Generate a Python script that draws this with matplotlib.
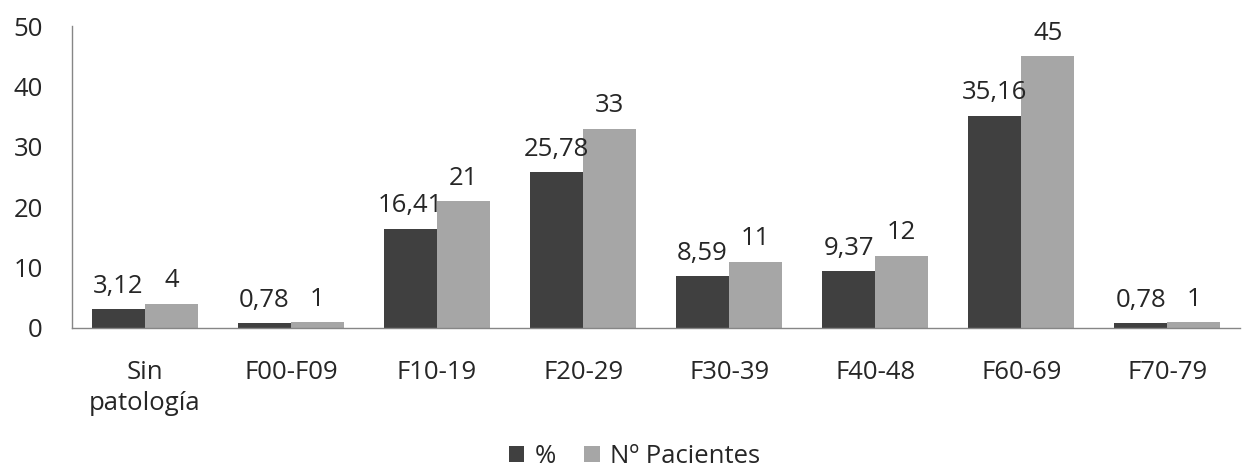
import matplotlib
matplotlib.use("Agg")
import matplotlib.pyplot as plt
import numpy as np

plt.rcParams['font.family'] = ['Open Sans', 'DejaVu Sans']

categories = ["Sin\npatología", "F00-F09", "F10-19", "F20-29", "F30-39", "F40-48", "F60-69", "F70-79"]
porcentaje = [3.12, 0.78, 16.41, 25.78, 8.59, 9.37, 35.16, 0.78]
pacientes = [4, 1, 21, 33, 11, 12, 45, 1]
yticks = [0, 10, 20, 30, 40, 50]

dark = "#404040"
light = "#a6a6a6"
text_color = "#262626"
fs = 18.5

fig = plt.figure(figsize=(12.49, 4.73), dpi=100)
ax = fig.add_axes([0.0576, 0.3066, 0.9354, 0.6384])

x = np.arange(len(categories))
w = 0.363
b1 = ax.bar(x - w / 2, porcentaje, w, color=dark, label="%")
b2 = ax.bar(x + w / 2, pacientes, w, color=light, label="Nº Pacientes")

def fmt(v):
    if float(v).is_integer():
        return f"{int(v)}"
    return f"{v:.2f}".replace(".", ",")

for bars, vals in ((b1, porcentaje), (b2, pacientes)):
    for rect, v in zip(bars, vals):
        ax.annotate(fmt(v), (rect.get_x() + rect.get_width() / 2, v),
                    xytext=(0, 7.5), textcoords="offset points",
                    ha="center", va="bottom", fontsize=fs, color=text_color)

ax.set_xlim(-0.5, len(categories) - 0.5)
ax.set_ylim(0, 50)
ax.set_yticks(yticks)
ax.set_xticks(x)
ax.set_xticklabels(categories, linespacing=1.3)
ax.tick_params(axis="both", length=0, labelsize=fs, colors=text_color)
ax.tick_params(axis="y", pad=21)
ax.tick_params(axis="x", pad=23)

for s in ("top", "right"):
    ax.spines[s].set_visible(False)
for s in ("left", "bottom"):
    ax.spines[s].set_color("#868686")
    ax.spines[s].set_linewidth(1)

leg = fig.legend(handles=[b1, b2], loc="lower center", ncol=2, frameon=False,
                 fontsize=fs, bbox_to_anchor=(0.508, -0.04),
                 handlelength=0.6, handleheight=0.6, handletextpad=0.4,
                 columnspacing=1.1)
for t in leg.get_texts():
    t.set_color(text_color)

fig.savefig("out.png", dpi=100, facecolor="white")
